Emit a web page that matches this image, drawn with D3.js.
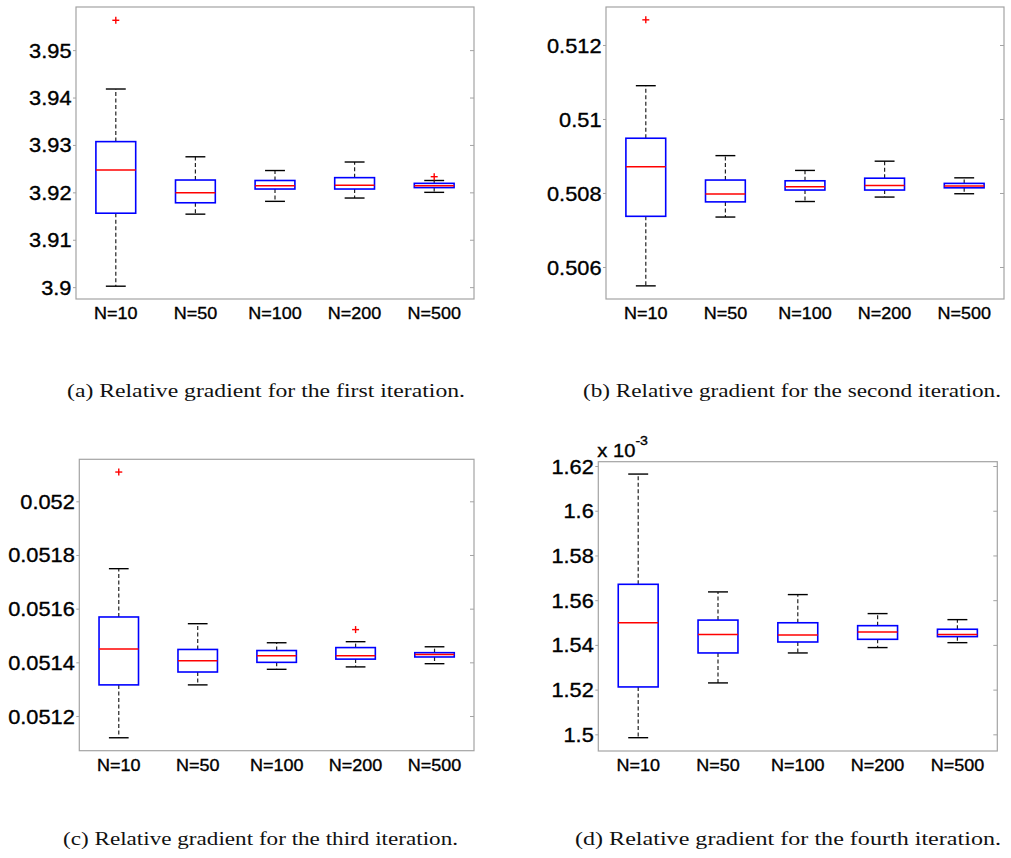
<!DOCTYPE html>
<html>
<head>
<meta charset="utf-8">
<script src="https://cdn.jsdelivr.net/npm/d3@7"></script>
<style>
  html, body { margin: 0; padding: 0; background: #fff; }
  svg { display: block; }
  .tick-lbl { font-family: "Liberation Sans", Arial, sans-serif; fill: #000; stroke: #000; stroke-width: 0.35px; }
  .caption { font-family: "Liberation Serif", "Times New Roman", serif; fill: #111; }
</style>
</head>
<body>
<svg id="fig" width="1011" height="858"></svg>
<script>
// Sample sizes shared by every panel
const categories = ["N=10", "N=50", "N=100", "N=200", "N=500"];

// (a) first iteration
const firstLow  = [3.9002, 3.9154, 3.9181, 3.9188, 3.9200];
const firstQ1   = [3.9156, 3.9178, 3.9207, 3.9207, 3.9210];
const firstMed  = [3.9247, 3.9199, 3.9214, 3.9215, 3.9214];
const firstQ3   = [3.9307, 3.9226, 3.9225, 3.9231, 3.9219];
const firstHigh = [3.9418, 3.9275, 3.9246, 3.9264, 3.9225];
const firstOut  = [[0, 3.9563], [4, 3.9233]];
const firstTicks = [3.9, 3.91, 3.92, 3.93, 3.94, 3.95];

// (b) second iteration
const secondLow  = [0.50549, 0.50735, 0.50777, 0.50789, 0.50798];
const secondQ1   = [0.50737, 0.50776, 0.50808, 0.50808, 0.50814];
const secondMed  = [0.50871, 0.50797, 0.50817, 0.50820, 0.50819];
const secondQ3   = [0.50948, 0.50835, 0.50833, 0.50840, 0.50826];
const secondHigh = [0.51090, 0.50901, 0.50861, 0.50886, 0.50841];
const secondOut  = [[0, 0.51268]];
const secondTicks = [0.506, 0.508, 0.51, 0.512];

// (c) third iteration
const thirdLow  = [0.051119, 0.051316, 0.051374, 0.051383, 0.051395];
const thirdQ1   = [0.051316, 0.051364, 0.051400, 0.051412, 0.051420];
const thirdMed  = [0.051450, 0.051406, 0.051425, 0.051425, 0.051429];
const thirdQ3   = [0.051569, 0.051448, 0.051444, 0.051455, 0.051436];
const thirdHigh = [0.051749, 0.051544, 0.051473, 0.051477, 0.051458];
const thirdOut  = [[0, 0.052109], [3, 0.051522]];
const thirdTicks = [0.0512, 0.0514, 0.0516, 0.0518, 0.052];

// (d) fourth iteration, in units of 1e-3
const fourthLow  = [1.4985, 1.5230, 1.5364, 1.5388, 1.5410];
const fourthQ1   = [1.5212, 1.5364, 1.5413, 1.5425, 1.5437];
const fourthMed  = [1.5499, 1.5447, 1.5444, 1.5458, 1.5447];
const fourthQ3   = [1.5671, 1.5511, 1.5499, 1.5486, 1.5470];
const fourthHigh = [1.6164, 1.5637, 1.5625, 1.5540, 1.5513];
const fourthOut  = [];
const fourthTicks = [1.5, 1.52, 1.54, 1.56, 1.58, 1.6, 1.62];

const captions = [
  "(a)  Relative gradient for the first iteration.",
  "(b)  Relative gradient for the second iteration.",
  "(c)  Relative gradient for the third iteration.",
  "(d)  Relative gradient for the fourth iteration."
];

const panels = [
  { low: firstLow, q1: firstQ1, med: firstMed, q3: firstQ3, high: firstHigh, out: firstOut, ticks: firstTicks,
    box: { x0: 76, x1: 474, y0: 7, y1: 299 }, domain: [3.8975, 3.9591],
    caption: captions[0], cap: { x0: 67, x1: 465, y: 397 } },
  { low: secondLow, q1: secondQ1, med: secondMed, q3: secondQ3, high: secondHigh, out: secondOut, ticks: secondTicks,
    box: { x0: 606, x1: 1004, y0: 7, y1: 299 }, domain: [0.505135, 0.513027],
    caption: captions[1], cap: { x0: 583, x1: 1001, y: 397 } },
  { low: thirdLow, q1: thirdQ1, med: thirdMed, q3: thirdQ3, high: thirdHigh, out: thirdOut, ticks: thirdTicks,
    box: { x0: 79.3, x1: 474, y0: 459.3, y1: 750.7 }, domain: [0.0510708, 0.0521565],
    caption: captions[2], cap: { x0: 63, x1: 458, y: 845 } },
  { low: fourthLow, q1: fourthQ1, med: fourthMed, q3: fourthQ3, high: fourthHigh, out: fourthOut, ticks: fourthTicks,
    box: { x0: 598.3, x1: 997.3, y0: 461.7, y1: 751 }, domain: [1.49255, 1.62193],
    caption: captions[3], cap: { x0: 575, x1: 1001, y: 845 }, exponent: "-3" }
];

const svg = d3.select("#fig");
const fmt = v => String(+v.toFixed(6));
const widen = 1.09; // sans labels are drawn slightly wider than stock Arial

// stretch a label horizontally about its own anchor point
function widenText(sel) {
  sel.each(function () {
    const t = d3.select(this);
    const x = +t.attr("x") || 0;
    t.attr("x", x / widen).attr("transform", `scale(${widen},1)`);
  });
}

function drawPanel(p) {
  const g = svg.append("g");
  const { x0, x1, y0, y1 } = p.box;

  const x = d3.scaleBand().domain(categories).range([x0, x1]).paddingInner(0).paddingOuter(0);
  const y = d3.scaleLinear().domain(p.domain).range([y1, y0]);
  const bw = x.bandwidth() * 0.5;
  const cw = x.bandwidth() * 0.25;
  const cx = i => x(categories[i]) + x.bandwidth() / 2;

  // frame
  g.append("rect").attr("x", x0).attr("y", y0).attr("width", x1 - x0).attr("height", y1 - y0)
    .attr("fill", "#fff").attr("stroke", "#a3a3a3").attr("stroke-width", 1.2);

  // left axis: labels + short outward ticks
  const yAxis = d3.axisLeft(y).tickValues(p.ticks).tickFormat(fmt).tickSize(3).tickPadding(1.5);
  const ga = g.append("g").attr("transform", `translate(${x0},0)`).call(yAxis);
  ga.attr("font-size", null).attr("font-family", null);
  ga.select(".domain").remove();
  ga.selectAll(".tick line").attr("stroke", "#a3a3a3");
  ga.selectAll(".tick text").attr("class", "tick-lbl").style("font-size", "20px").attr("dy", "0.35em")
    .call(widenText);

  // right-side inward ticks
  const gr = g.append("g").attr("transform", `translate(${x1},0)`)
    .call(d3.axisLeft(y).tickValues(p.ticks).tickFormat("").tickSize(4));
  gr.select(".domain").remove();
  gr.selectAll(".tick line").attr("stroke", "#a3a3a3");

  // category labels
  const xAxis = d3.axisBottom(x).tickSize(0).tickPadding(0);
  const gx = g.append("g").attr("transform", `translate(0,${y1})`).call(xAxis);
  gx.attr("font-size", null).attr("font-family", null);
  gx.select(".domain").remove();
  gx.selectAll(".tick text").attr("class", "tick-lbl").style("font-size", "16.5px")
    .attr("y", 20).attr("dy", null).call(widenText);

  const idx = d3.range(categories.length);

  // whiskers (dashed) from box edges to extremes
  g.selectAll(".wh-up").data(idx).join("line")
    .attr("x1", cx).attr("x2", cx)
    .attr("y1", i => y(p.q3[i])).attr("y2", i => y(p.high[i]))
    .attr("stroke", "#222").attr("stroke-width", 1.2).attr("stroke-dasharray", "4,2.5");
  g.selectAll(".wh-dn").data(idx).join("line")
    .attr("x1", cx).attr("x2", cx)
    .attr("y1", i => y(p.q1[i])).attr("y2", i => y(p.low[i]))
    .attr("stroke", "#222").attr("stroke-width", 1.2).attr("stroke-dasharray", "4,2.5");

  // whisker caps
  [p.high, p.low].forEach(arr => {
    g.selectAll(null).data(idx).join("line")
      .attr("x1", i => cx(i) - cw / 2).attr("x2", i => cx(i) + cw / 2)
      .attr("y1", i => y(arr[i])).attr("y2", i => y(arr[i]))
      .attr("stroke", "#000").attr("stroke-width", 1.4);
  });

  // boxes
  g.selectAll(".bx").data(idx).join("rect")
    .attr("x", i => cx(i) - bw / 2).attr("width", bw)
    .attr("y", i => y(p.q3[i])).attr("height", i => y(p.q1[i]) - y(p.q3[i]))
    .attr("fill", "none").attr("stroke", "#0000ff").attr("stroke-width", 1.6);

  // medians
  g.selectAll(".md").data(idx).join("line")
    .attr("x1", i => cx(i) - bw / 2).attr("x2", i => cx(i) + bw / 2)
    .attr("y1", i => y(p.med[i])).attr("y2", i => y(p.med[i]))
    .attr("stroke", "#ff0000").attr("stroke-width", 1.5);

  // outliers as red plus signs
  const og = g.selectAll(".ol").data(p.out).join("g")
    .attr("transform", d => `translate(${cx(d[0])},${y(d[1])})`);
  og.append("line").attr("x1", -3.5).attr("x2", 3.5).attr("y1", 0).attr("y2", 0)
    .attr("stroke", "#ff0000").attr("stroke-width", 1.4);
  og.append("line").attr("x1", 0).attr("x2", 0).attr("y1", -3.5).attr("y2", 3.5)
    .attr("stroke", "#ff0000").attr("stroke-width", 1.4);

  // exponent label above the axis
  if (p.exponent) {
    const t = g.append("text").attr("x", x0 - 1).attr("y", y0 - 4.5)
      .attr("class", "tick-lbl").style("font-size", "18.5px");
    t.append("tspan").text("x 10");
    t.append("tspan").text(p.exponent).attr("dy", -12).style("font-size", "13px");
    t.call(widenText);
  }

  // caption
  svg.append("text").attr("class", "caption")
    .attr("x", p.cap.x0).attr("y", p.cap.y)
    .style("font-size", "18.5px")
    .attr("textLength", p.cap.x1 - p.cap.x0).attr("lengthAdjust", "spacingAndGlyphs")
    .text(p.caption);
}

panels.forEach(drawPanel);
</script>
</body>
</html>
